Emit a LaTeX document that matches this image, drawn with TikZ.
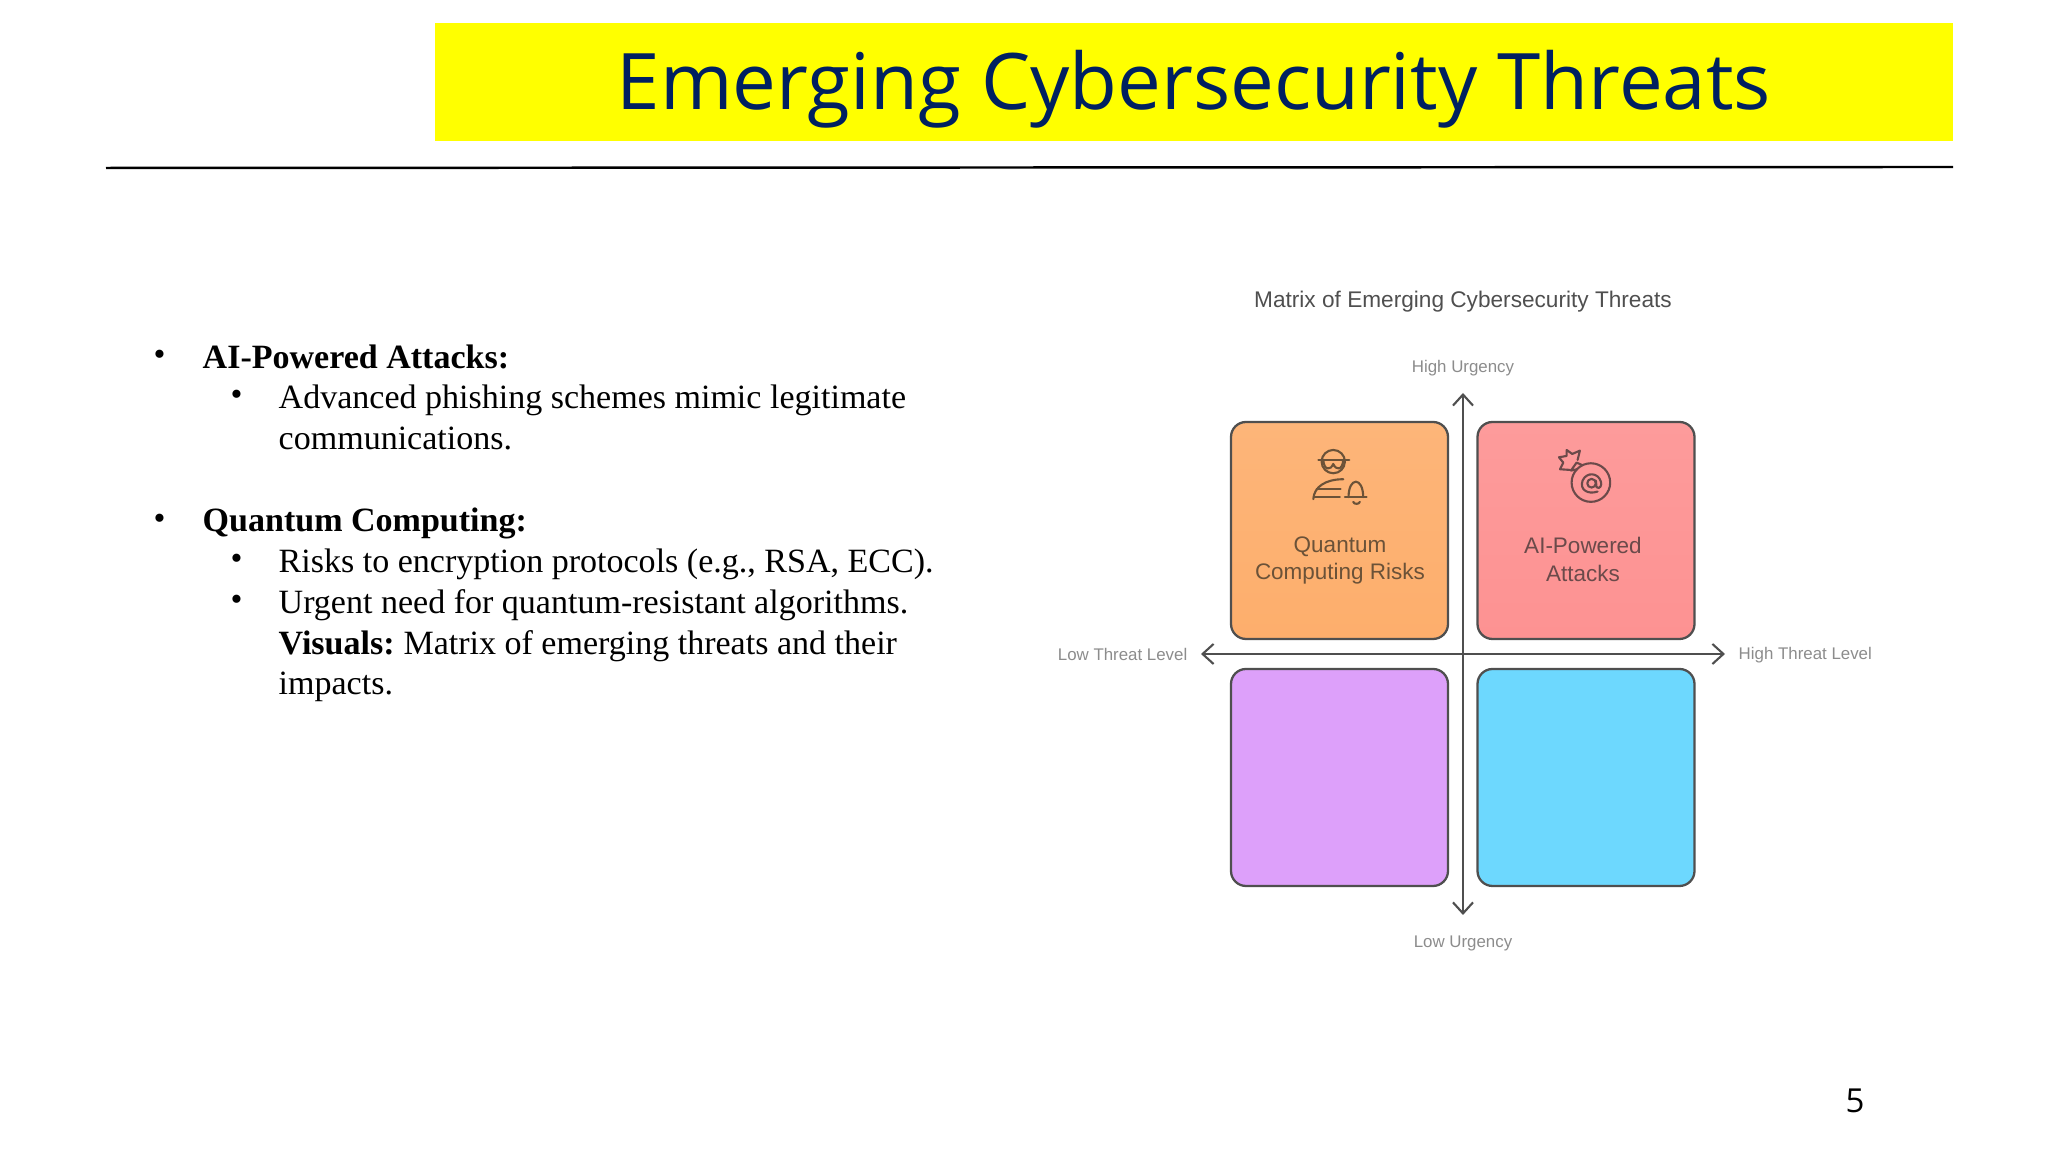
\documentclass[tikz,border=0pt]{standalone}
\usepackage{fontspec}
\setmainfont{Liberation Serif}
\newfontfamily\headfont{Open Sans}
\newfontfamily\chartfont{Liberation Sans}
\usetikzlibrary{arrows.meta}
\definecolor{headblue}{HTML}{002060}
\definecolor{bannerfill}{HTML}{FFFF00}
\definecolor{edgegray}{HTML}{4F4F4F}
\definecolor{labelgray}{HTML}{8C8C8C}
\definecolor{orangetop}{HTML}{FDB579}
\definecolor{orangelow}{HTML}{FDAE6C}
\definecolor{redtop}{HTML}{FD9B9B}
\definecolor{redlow}{HTML}{FD9292}
\definecolor{purplefill}{HTML}{DDA0FA}
\definecolor{bluefill}{HTML}{6DD8FE}
\definecolor{orangeink}{HTML}{6B5238}
\definecolor{redink}{HTML}{6B4A4A}
\newcommand*{\bodysize}{\fontsize{9.68}{11}\selectfont}
\newcommand*{\boldline}[1]{\textbf{#1}}

\begin{document}
\begin{tikzpicture}
        \tikzset{banner/.style={shape=rectangle,fill=bannerfill,minimum width=15.18cm,minimum height=1.18cm,inner sep=0pt}}
        \tikzset{bodytext/.style={anchor=base west,inner sep=0pt,font=\bodysize}}
        \tikzset{quadrant/.style={shape=rectangle,draw=edgegray,line width=0.65pt,rounded corners=0.15cm,minimum width=2.17cm,minimum height=2.17cm,inner sep=0pt}}
        \tikzset{quadtext/.style={align=center,inner sep=0pt,font=\chartfont\fontsize{6.4}{7.8}\selectfont}}
        \tikzset{axislabel/.style={inner sep=0pt,text=labelgray,font=\chartfont\fontsize{4.8}{6}\selectfont}}
        \tikzset{axis/.style={<->,>={Straight Barb[length=0.11cm,width=0.2cm]},draw=edgegray,line width=0.6pt}}
        \tikzset{icon/.style={line width=0.6pt,line cap=round,line join=round}}

        \useasboundingbox (0,0) rectangle (20.48,11.52);

        \node[banner] (banner) at (11.94,10.70) {};
        \node[anchor=base,inner sep=0pt,text=headblue,font=\headfont\fontsize{22.2}{26}\selectfont] (heading) at (11.94,10.42) {Emerging Cybersecurity Threats};
        \coordinate (ruleleft) at (1.06,9.84);
        \coordinate (ruleright) at (19.53,9.85);
        \draw[line width=0.7pt] (ruleleft) -- (ruleright);

        \node[bodytext] (dota) at (1.53,7.86) {•};
        \node[bodytext] (ai) at (2.02,7.83) {\boldline{AI-Powered Attacks:}};
        \node[bodytext] (dotb) at (2.30,7.46) {•};
        \node[bodytext] (phish) at (2.78,7.43) {Advanced phishing schemes mimic legitimate};
        \node[bodytext] (comm) at (2.78,7.02) {communications.};
        \node[bodytext] (dotc) at (1.53,6.225) {•};
        \node[bodytext] (qc) at (2.02,6.20) {\boldline{Quantum Computing:}};
        \node[bodytext] (dotd) at (2.30,5.82) {•};
        \node[bodytext] (risks) at (2.78,5.79) {Risks to encryption protocols (e.g., RSA, ECC).};
        \node[bodytext] (dote) at (2.30,5.41) {•};
        \node[bodytext] (urgent) at (2.78,5.38) {Urgent need for quantum-resistant algorithms.};
        \node[bodytext] (visuals) at (2.78,4.97) {\boldline{Visuals:}\kern-0.7pt{} Matrix of emerging threats and their};
        \node[bodytext] (impacts) at (2.78,4.57) {impacts.};

        \node[text=edgegray,inner sep=0pt,font=\chartfont\fontsize{6.44}{7.4}\selectfont] (matrix) at (14.63,8.50) {Matrix of Emerging Cybersecurity Threats};

        \node[quadrant,top color=orangetop,bottom color=orangelow] (qtl) at (13.395,6.215) {};
        \node[quadrant,top color=redtop,bottom color=redlow] (qtr) at (15.86,6.215) {};
        \node[quadrant,fill=purplefill] (qbl) at (13.395,3.745) {};
        \node[quadrant,fill=bluefill] (qbr) at (15.86,3.745) {};

        \node[quadtext,text=orangeink] (qtltext) at (13.40,5.915) {Quantum\\Computing Risks};
        \node[quadtext,text=redink] (qtrtext) at (15.83,5.925) {AI-Powered\\Attacks};

        \coordinate (axistop) at (14.63,7.59);
        \coordinate (axisbottom) at (14.63,2.37);
        \coordinate (axisleft) at (12.01,4.98);
        \coordinate (axisright) at (17.25,4.98);
        \draw[axis] (axisbottom) -- (axistop);
        \draw[axis] (axisleft) -- (axisright);

        \node[axislabel] (high) at (14.63,7.84) {High Urgency};
        \node[axislabel] (low) at (14.63,2.09) {Low Urgency};
        \node[axislabel,anchor=east] (lowt) at (11.88,4.98) {Low Threat Level};
        \node[axislabel,anchor=west] (hight) at (17.38,4.97) {High Threat Level};

        \begin{scope}[shift={(13.00,7.12)},x=0.003333cm,y=-0.003333cm,icon,draw=orangeink]
            \draw (100,65) circle (35);
            \draw (55,60) -- (148,60);
            \draw (70,60) .. controls (72,92) and (92,92) .. (100,72) .. controls (108,92) and (128,92) .. (130,60);
            \draw (40,178) .. controls (42,140) and (78,118) .. (130,118);
            \draw (50,148) -- (122,148);
            \draw (42,172) -- (120,172);
            \draw (135,172) -- (200,172);
            \draw (146,172) .. controls (146,110) and (190,110) .. (190,172);
            \draw (160,186) .. controls (162,194) and (178,194) .. (180,186);
        \end{scope}

        \begin{scope}[shift={(15.45,7.12)},x=0.003333cm,y=-0.003333cm,icon,draw=redink]
            \draw (138,128) circle (58);
            \draw (140,130) circle (13);
            \draw (153,122) -- (155,142) .. controls (165,150) and (172,135) .. (168,125) .. controls (160,98) and (125,95) .. (113,122) .. controls (103,150) and (130,165) .. (158,155);
            \draw (97,88) -- (78,92) -- (95,68) -- (113,76);
            \draw (75,90) -- (45,88) -- (55,68) -- (42,52) -- (65,48) -- (65,30) -- (82,42) -- (105,32) -- (98,60);
        \end{scope}

        \node[anchor=base,inner sep=0pt,font=\headfont\fontsize{9.4}{11}\selectfont] (pagenum) at (18.55,0.39) {5};
\end{tikzpicture}
\end{document}
